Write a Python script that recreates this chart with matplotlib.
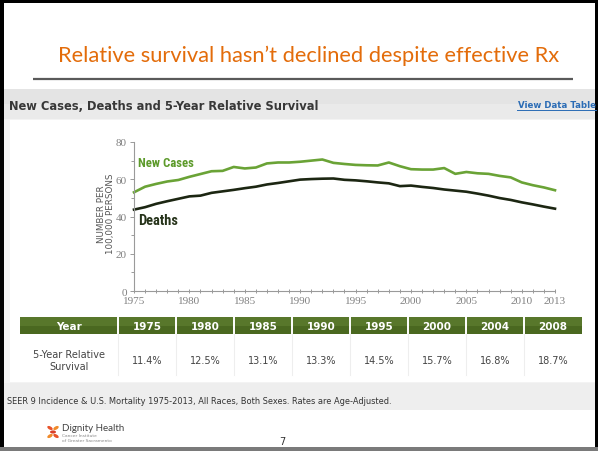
import matplotlib
matplotlib.use('Agg')
import matplotlib.pyplot as plt
from matplotlib.patches import Rectangle, Ellipse
from matplotlib.ticker import MultipleLocator
from matplotlib import font_manager

# ---------------- data ----------------
years = list(range(1975, 2014))
new_cases = [53.0, 56.0, 57.5, 58.8, 59.6, 61.3, 62.8, 64.3, 64.5, 66.6,
             65.8, 66.3, 68.5, 69.0, 69.0, 69.4, 70.0, 70.6, 68.8, 68.2,
             67.7, 67.5, 67.4, 69.0, 67.0, 65.4, 65.2, 65.2, 66.0, 62.9,
             63.9, 63.2, 62.9, 61.8, 61.0, 58.3, 56.8, 55.6, 54.1]
deaths = [43.7, 45.0, 46.8, 48.2, 49.5, 50.8, 51.2, 52.7, 53.5, 54.3,
          55.2, 56.0, 57.2, 58.0, 58.9, 59.8, 60.1, 60.3, 60.4, 59.7,
          59.4, 58.9, 58.3, 57.8, 56.3, 56.6, 55.9, 55.3, 54.5, 53.9,
          53.3, 52.3, 51.2, 49.9, 48.9, 47.6, 46.5, 45.3, 44.2]
x_tick_years = [1975, 1980, 1985, 1990, 1995, 2000, 2005, 2010, 2013]
y_ticks = [0, 20, 40, 60, 80]
table_years = ['1975', '1980', '1985', '1990', '1995', '2000', '2004', '2008']
survival = ['11.4%', '12.5%', '13.1%', '13.3%', '14.5%', '15.7%', '16.8%', '18.7%']

slide_title = "Relative survival hasn\u2019t declined despite effective Rx"
chart_title = "New Cases, Deaths and 5-Year Relative Survival"
footnote = "SEER 9 Incidence & U.S. Mortality 1975-2013, All Races, Both Sexes. Rates are Age-Adjusted."

# condensed font for series labels if one is installed
installed = {f.name for f in font_manager.fontManager.ttflist}
label_font = 'DejaVu Sans'
for cand in ['Liberation Sans Narrow', 'Roboto Condensed', 'DejaVu Sans Condensed']:
    if cand in installed:
        label_font = cand
        break

# ---------------- figure ----------------
W, H = 598, 452
fig = plt.figure(figsize=(W / 100, H / 100), dpi=100)
bg = fig.add_axes([0, 0, 1, 1])
bg.set_xlim(0, W)
bg.set_ylim(H, 0)
bg.axis('off')
renderer = fig.canvas.get_renderer()


def fit(t, width):
    bb = t.get_window_extent(renderer)
    t.set_fontsize(t.get_fontsize() * width / bb.width)
    return t


def rect(x, y, w, h, color, z=1):
    bg.add_patch(Rectangle((x, y), w, h, facecolor=color, edgecolor='none', zorder=z))


# slide background + screenshot area
rect(0, 0, W, H, 'white', 0)
rect(4, 90, 594, 321, '#f3f3f3', 1)
rect(4, 90, 594, 15, '#e4e4e4', 1.1)
rect(4, 105, 594, 15, '#eaeaea', 1.1)
rect(10, 121, 585, 262, 'white', 1.2)
rect(4, 384, 594, 27, '#eeeeee', 1.2)

# frame
rect(0, 0, 4, H, 'black', 5)
rect(0, 0, W, 4, 'black', 5)
rect(595, 0, 3, H, 'black', 5)
rect(0, 448, W, 4, '#7a7a7a', 5)

# slide title
t = bg.text(309, 56, slide_title, ha='center', va='center', color='#e36c0a',
            family='Lato', fontsize=14, zorder=6)
fit(t, 504)
bg.plot([33, 573], [80, 80], color='#5a5a5a', lw=1.6, zorder=6, solid_capstyle='butt')

# chart header
t = bg.text(9, 106, chart_title, ha='left', va='center', color='#383838',
            family='DejaVu Sans', fontweight='bold', fontsize=8, zorder=6)
fit(t, 310)
t = bg.text(596, 106, "View Data Table", ha='right', va='center', color='#2b6cb5',
            family='DejaVu Sans', fontweight='bold', fontsize=6, zorder=6)
fit(t, 79)
bg.plot([517, 596], [111, 111], color='#2b6cb5', lw=0.7, zorder=6)

# y label
bg.text(106, 214, "NUMBER PER\n100,000 PERSONS", rotation=90, ha='center', va='center',
        color='#555555', family='DejaVu Sans', fontsize=6.3, linespacing=1.05, zorder=6)

# ---------------- chart ----------------
x0, x1, y0, y1 = 134, 555, 292, 143
ax = fig.add_axes([x0 / W, 1 - y0 / H, (x1 - x0) / W, (y0 - y1) / H])
ax.patch.set_alpha(0)
ax.set_xlim(1975, 2013)
ax.set_ylim(0, 80)
ax.plot(years, new_cases, color='#6aa336', lw=1.9, clip_on=False, solid_joinstyle='round')
ax.plot(years, deaths, color='#1c2612', lw=1.9, clip_on=False, solid_joinstyle='round')
for s in ['top', 'right']:
    ax.spines[s].set_visible(False)
for s in ['left', 'bottom']:
    ax.spines[s].set_color('#9a9a9a')
    ax.spines[s].set_linewidth(0.8)
ax.set_yticks(y_ticks)
ax.yaxis.set_minor_locator(MultipleLocator(10))
ax.set_xticks(x_tick_years)
ax.set_xticklabels([str(y) for y in x_tick_years])
ax.xaxis.set_minor_locator(MultipleLocator(1))
ax.tick_params(axis='both', which='both', colors='#9a9a9a', width=0.7)
ax.tick_params(axis='y', which='major', length=3, direction='out', pad=2)
ax.tick_params(axis='y', which='minor', length=2, direction='out')
ax.tick_params(axis='x', which='major', length=3, direction='inout', pad=2)
ax.tick_params(axis='x', which='minor', length=3, direction='inout')
for lab in ax.get_xticklabels() + ax.get_yticklabels():
    lab.set_family('Liberation Serif')
    lab.set_color('#808080')
    lab.set_fontsize(8)

# series labels
t = bg.text(138, 164, "New Cases", ha='left', va='center', color='#5c9a2a',
            family=label_font, fontweight='bold', fontsize=8, zorder=6)
fit(t, 56)
t = bg.text(138, 221, "Deaths", ha='left', va='center', color='#26331a',
            family=label_font, fontweight='bold', fontsize=8, zorder=6)
fit(t, 40)

# ---------------- table ----------------
tx0, tx1, ty0, th = 20, 582, 318, 17
first_w = 98
col_w = (tx1 - tx0 - first_w) / len(table_years)
rect(tx0, ty0, tx1 - tx0, th, '#4a6820', 3)
rect(tx0, ty0, tx1 - tx0, th / 2, '#58772b', 3.1)
bg.text(tx0 + first_w / 2, ty0 + th / 2 + 0.5, "Year", ha='center', va='center',
        color='white', family='DejaVu Sans', fontweight='bold', fontsize=7.5, zorder=6)
bg.text(tx0 + first_w / 2, 361, "5-Year Relative\nSurvival", ha='center', va='center',
        color='#444444', family='DejaVu Sans', fontsize=7, linespacing=1.25, zorder=6)
for i, (yr, sv) in enumerate(zip(table_years, survival)):
    cx = tx0 + first_w + col_w * (i + 0.5)
    sx = tx0 + first_w + col_w * i
    bg.plot([sx, sx], [ty0, ty0 + th], color='white', lw=1.4, zorder=4)
    bg.plot([sx, sx], [ty0 + th, 376], color='#eeeeee', lw=0.8, zorder=4)
    bg.text(cx, ty0 + th / 2 + 0.5, yr, ha='center', va='center', color='white',
            family='DejaVu Sans', fontweight='bold', fontsize=7.5, zorder=6)
    bg.text(cx, 361, sv, ha='center', va='center', color='#444444',
            family='DejaVu Sans', fontsize=7, zorder=6)

# footnote
t = bg.text(7, 402, footnote, ha='left', va='center', color='#333333',
            family='DejaVu Sans', fontsize=6, zorder=6)
fit(t, 388)

# logo
for (ex, ey, ang, c) in [(50, 429, 30, '#e8532b'), (56, 429, -30, '#f08a2a'),
                         (50, 437, -30, '#f08a2a'), (56, 437, 30, '#e8532b'),
                         (53, 433, 0, '#d9402a')]:
    bg.add_patch(Ellipse((ex, ey), 6, 3.2, angle=ang, facecolor=c, edgecolor='none', zorder=6))
bg.text(62, 429, "Dignity Health", ha='left', va='center', color='#444444',
        family='Lato', fontsize=7, zorder=6)
bg.text(62, 436, "Cancer Institute", ha='left', va='center', color='#888888',
        family='DejaVu Sans', fontsize=3.2, zorder=6)
bg.text(62, 441, "of Greater Sacramento", ha='left', va='center', color='#888888',
        family='DejaVu Sans', fontsize=3.2, zorder=6)

# page number
bg.text(282, 442, "7", ha='center', va='center', color='#333333',
        family='DejaVu Sans', fontsize=7, zorder=6)

fig.savefig('out.png', dpi=100)
